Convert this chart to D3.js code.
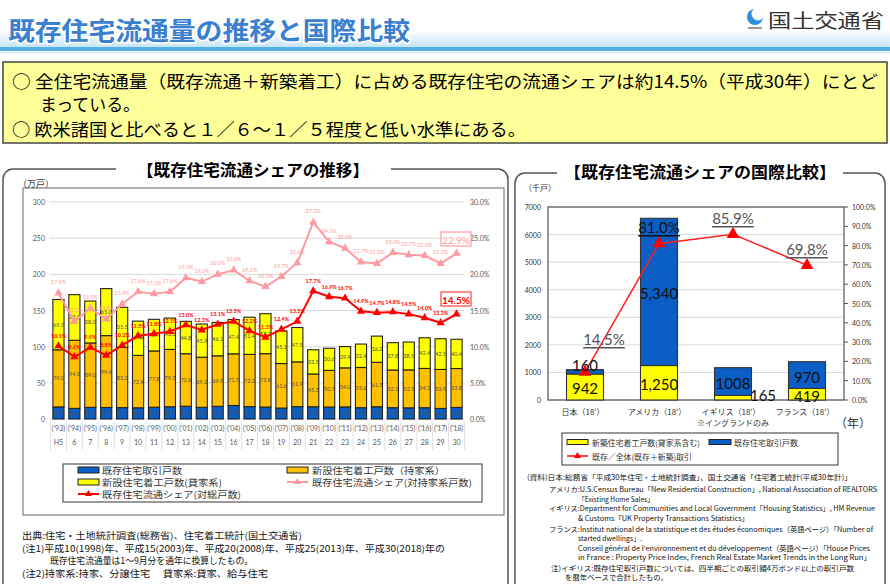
<!DOCTYPE html>
<html><head><meta charset="utf-8">
<script src="https://cdn.jsdelivr.net/npm/d3@7"></script>
<style>body{margin:0;background:#fff}svg{display:block}</style>
</head><body><svg id="c" width="890" height="584"></svg>
<script>
// ---------- DATA: left chart ----------
const years = ["('93)","('94)","('95)","('96)","('97)","('98)","('99)","('00)","('01)","('02)","('03)","('04)","('05)","('06)","('07)","('08)","('09)","('10)","('11)","('12)","('13)","('14)","('15)","('16)","('17)","('18)"];
const heisei = ["H5","6","7","8","9","10","11","12","13","14","15","16","17","18","19","20","21","22","23","24","25","26","27","28","29","30"];
const existing = [16.7,14.7,16.1,15.9,15.7,15.5,16.3,16.9,17.6,16.2,17.5,18.6,17.1,16.5,15.1,17.1,16.9,16.5,16.7,15.6,16.9,15.6,15.4,15.6,14.6,16.0];
const ownerNew = [79.0,94.1,89.0,99.4,83.2,72.4,77.8,79.3,72.6,69.2,69.9,71.5,72.2,73.8,61.6,61.9,45.3,50.7,54.0,55.6,61.5,52.1,52.5,54.3,53.9,53.8];
const rentalNew = [69.5,63.1,58.0,65.0,55.5,47.4,43.7,43.3,44.8,45.9,46.1,47.4,51.4,55.3,45.1,47.5,33.5,30.6,29.4,32.4,36.2,37.8,38.5,42.4,42.5,40.4];
const shareTotal = [10.1,8.6,9.9,8.8,10.2,11.5,11.8,12.1,13.0,12.3,13.1,13.5,12.2,11.3,12.4,13.5,17.7,16.9,16.7,14.9,14.7,14.8,14.5,14.0,13.3,14.5];
const shareOwner = [17.4,13.5,15.3,13.8,15.9,17.6,17.3,17.6,19.5,19.0,20.0,20.6,19.1,18.3,19.7,21.6,27.2,24.5,23.6,21.7,21.5,23.0,22.7,22.6,21.5,22.9];
const leftTicks = [0,50,100,150,200,250,300];
const rightTicks = [0,5,10,15,20,25,30];

// ---------- DATA: right chart ----------
const countries = ["日本（18'）","アメリカ（18'）","イギリス（18'）","フランス（18'）"];
const intlNew = [942,1250,165,419];
const intlExisting = [160,5340,1008,970];
const intlShare = [14.5,81.0,85.9,69.8];
const intlLeftTicks = [0,1000,2000,3000,4000,5000,6000,7000];
const intlRightTicks = [0,10,20,30,40,50,60,70,80,90,100];

// ---------- helpers ----------
const svg = d3.select("#c");
const F = '"Noto Sans CJK JP","Noto Sans",sans-serif';
const N = 'Lato,"Liberation Sans",sans-serif';
function T(g,x,y,s,o={}){
  const t=g.append("text").attr("x",x).attr("y",y).attr("dominant-baseline","central").text(s)
   .style("font-family",o.ff||F).style("font-size",(o.fs||10)+"px").attr("fill",o.fill||"#000");
  if(o.anchor) t.attr("text-anchor",o.anchor);
  if(o.bold) t.style("font-weight","bold");
  if(o.len) t.attr("textLength",o.len).attr("lengthAdjust","spacingAndGlyphs");
  if(o.ul) t.style("text-decoration","underline");
  return t;
}

// ---------- header ----------
const defs=svg.append("defs");
const lg=defs.append("linearGradient").attr("id","band").attr("x1",0).attr("x2",0).attr("y1",0).attr("y2",1);
lg.append("stop").attr("offset","0").attr("stop-color","#ffffff");
lg.append("stop").attr("offset","1").attr("stop-color","#c6e5f6");
svg.append("rect").attr("x",0).attr("y",30).attr("width",890).attr("height",17).attr("fill","url(#band)");
svg.append("rect").attr("x",0).attr("y",47).attr("width",890).attr("height",4).attr("fill","#4fb2e3");
svg.append("rect").attr("x",0).attr("y",52).attr("width",890).attr("height",1).attr("fill","#bfe2f4");
T(svg,8,29,"既存住宅流通量の推移と国際比較",{fs:25,bold:true,fill:"#3b7fd0",len:402})
  .attr("stroke","#fff").attr("stroke-width",3).attr("paint-order","stroke");
// logo
svg.append("circle").attr("cx",755).attr("cy",17).attr("r",8).attr("fill","#2c8fe0");
svg.append("circle").attr("cx",758).attr("cy",14).attr("r",6.5).attr("fill","#fff");
svg.append("rect").attr("x",748).attr("y",27).attr("width",14).attr("height",2).attr("fill","#999");
T(svg,768,19,"国土交通省",{fs:19,fill:"#333",len:116});

// ---------- summary box ----------
svg.append("rect").attr("x",3).attr("y",62).attr("width",884).attr("height",81).attr("fill","#ffff99").attr("stroke","#444").attr("stroke-width",1.5);
T(svg,12,80,"○ 全住宅流通量（既存流通＋新築着工）に占める既存住宅の流通シェアは約14.5%（平成30年）にとど",{fs:17.5,len:866});
T(svg,40,103,"まっている。",{fs:17.5,len:100});
T(svg,12,128,"○ 欧米諸国と比べると１／６～１／５程度と低い水準にある。",{fs:17.5,len:514});

// ---------- panels ----------
svg.append("path").attr("d","M116,169 H13 A10,10 0 0 0 3,179 V600 M391,169 H498 A10,10 0 0 1 508,179 V600")
  .attr("fill","none").attr("stroke","#555").attr("stroke-width",1.5);
svg.append("path").attr("d","M557,173 H525 A10,10 0 0 0 515,183 V600 M843,173 H875 A10,10 0 0 1 885,183 V600")
  .attr("fill","none").attr("stroke","#555").attr("stroke-width",1.5);
T(svg,253,169,"【既存住宅流通シェアの推移】",{fs:16,bold:true,anchor:"middle",len:232});
T(svg,700,171,"【既存住宅流通シェアの国際比較】",{fs:16,bold:true,anchor:"middle",len:272});

// ---------- LEFT CHART ----------
const L=svg.append("g");
L.append("rect").attr("x",23).attr("y",188).attr("width",481).attr("height",327).attr("fill","none").attr("stroke","#666").attr("stroke-width",1);
T(L,18,183,"（万戸）",{fs:9,fill:"#333"});
const x=d3.scaleBand().domain(years).range([50.5,464.5]).padding(0);
const y=d3.scaleLinear().domain([0,300]).range([419,202]);
const yp=d3.scaleLinear().domain([0,30]).range([419,202]);
L.append("g").selectAll("line").data(leftTicks).join("line")
  .attr("x1",50).attr("x2",464).attr("y1",d=>y(d)).attr("y2",d=>y(d)).attr("stroke","#d9d9d9").attr("stroke-width",1);
leftTicks.forEach(d=>T(L,45,y(d),String(d),{fs:7,fill:"#595959",anchor:"end",ff:N}));
rightTicks.forEach(d=>T(L,470,yp(d),d.toFixed(1)+"%",{fs:7,fill:"#595959",ff:N}));
// category table
years.forEach((d,i)=>{
  const cx=x(d)+x.bandwidth()/2;
  T(L,cx,428,d,{fs:7,fill:"#595959",anchor:"middle",ff:N});
  T(L,cx,442,heisei[i],{fs:7,fill:"#595959",anchor:"middle",ff:N});
});
d3.range(years.length+1).forEach(i=>{
  const xx=50.5+i*x.step();
  L.append("line").attr("x1",xx).attr("x2",xx).attr("y1",422).attr("y2",450).attr("stroke","#e0e0e0");
});
// bars
const rows=years.map((d,i)=>({year:d,existing:existing[i],ownerNew:ownerNew[i],rentalNew:rentalNew[i]}));
const keys=["existing","ownerNew","rentalNew"];
const colors={existing:"#0b5ec4",ownerNew:"#ffc000",rentalNew:"#ffff00"};
const stack=d3.stack().keys(keys)(rows);
const bw=x.bandwidth()*0.7;
stack.forEach(s=>{
  L.append("g").selectAll("rect").data(s).join("rect")
    .attr("x",d=>x(d.data.year)+(x.bandwidth()-bw)/2).attr("width",bw)
    .attr("y",d=>y(d[1])).attr("height",d=>y(d[0])-y(d[1]))
    .attr("fill",colors[s.key]).attr("stroke","#222").attr("stroke-width",1.1);
  s.forEach(d=>T(L,x(d.data.year)+x.bandwidth()/2,(y(d[0])+y(d[1]))/2,d.data[s.key].toFixed(1),{fs:5.5,fill:"#505050",anchor:"middle",ff:N}));
});
// lines
const cxf=(d,i)=>x(years[i])+x.bandwidth()/2;
const lineP=d3.line().x((d,i)=>cxf(d,i)).y(d=>yp(d));
L.append("path").attr("d",lineP(shareOwner)).attr("fill","none").attr("stroke","#ff9aa2").attr("stroke-width",2);
L.append("g").selectAll("path").data(shareOwner).join("path")
  .attr("d",d3.symbol(d3.symbolTriangle,30)).attr("transform",(d,i)=>`translate(${cxf(d,i)},${yp(d)})`).attr("fill","#ff9aa2");
L.append("path").attr("d",lineP(shareTotal)).attr("fill","none").attr("stroke","#ff0000").attr("stroke-width",2);
L.append("g").selectAll("path").data(shareTotal).join("path")
  .attr("d",d3.symbol(d3.symbolTriangle,30)).attr("transform",(d,i)=>`translate(${cxf(d,i)},${yp(d)})`).attr("fill","#ff0000");
shareOwner.forEach((d,i)=>{ if(i<years.length-1) T(L,cxf(d,i),yp(d)-11,d.toFixed(1)+"%",{fs:5.5,fill:"#ff9aa2",anchor:"middle",ff:N}); });
shareTotal.forEach((d,i)=>{ if(i<years.length-1) T(L,cxf(d,i),yp(d)-10,d.toFixed(1)+"%",{fs:5.5,fill:"#ff0000",anchor:"middle",bold:true,ff:N}); });
// highlight boxes
const last=years.length-1;
L.append("rect").attr("x",441).attr("y",232).attr("width",30).attr("height",14).attr("fill","#fff").attr("stroke","#ff9aa2").attr("stroke-width",1.2);
T(L,456,239.5,shareOwner[last].toFixed(1)+"%",{fs:10,fill:"#ff9aa2",anchor:"middle",ff:N});
L.append("rect").attr("x",441).attr("y",292).attr("width",30).attr("height",14).attr("fill","#fff").attr("stroke","#ff4040").attr("stroke-width",1.2);
T(L,456,299.5,shareTotal[last].toFixed(1)+"%",{fs:10,fill:"#ff0000",anchor:"middle",bold:true,ff:N});
// legend
L.append("rect").attr("x",63).attr("y",464).attr("width",419).attr("height",38).attr("fill","#fff").attr("stroke","#555").attr("stroke-width",1.2);
const sw=(g,x0,yy,c)=>g.append("rect").attr("x",x0).attr("y",yy-3).attr("width",21).attr("height",6).attr("fill",c).attr("stroke","#222").attr("stroke-width",1);
const lf={fs:9,fill:"#333"};
sw(L,78,470,colors.existing); T(L,102,470,"既存住宅取引戸数",{...lf,len:80});
sw(L,287,470,colors.ownerNew); T(L,312,470,"新設住宅着工戸数（持家系）",{...lf,len:133});
sw(L,78,482,colors.rentalNew); T(L,102,482,"新設住宅着工戸数(貸家系)",{...lf,len:120});
L.append("line").attr("x1",287).attr("x2",308).attr("y1",482).attr("y2",482).attr("stroke","#ff9aa2").attr("stroke-width",2);
L.append("path").attr("d",d3.symbol(d3.symbolTriangle,22)).attr("transform","translate(297.5,482)").attr("fill","#ff9aa2");
T(L,312,482,"既存住宅流通シェア(対持家系戸数)",{...lf,len:160});
L.append("line").attr("x1",78).attr("x2",99).attr("y1",494).attr("y2",494).attr("stroke","#ff0000").attr("stroke-width",2);
L.append("path").attr("d",d3.symbol(d3.symbolTriangle,22)).attr("transform","translate(88.5,494)").attr("fill","#ff0000");
T(L,102,494,"既存住宅流通シェア(対総戸数)",{...lf,len:139});
// footnotes
const fn={fs:9,fill:"#111"};
T(L,22,535,"出典:住宅・土地統計調査(総務省)、住宅着工統計(国土交通省)",{...fn,len:280});
T(L,22,548,"(注1)平成10(1998)年、平成15(2003)年、平成20(2008)年、平成25(2013)年、平成30(2018)年の",{...fn,len:423});
T(L,50,560,"既存住宅流通量は1～9月分を通年に換算したもの。",{...fn,len:203});
T(L,22,573,"(注2)持家系:持家、分譲住宅　 貸家系:貸家、給与住宅",{...fn,len:246});

// ---------- RIGHT CHART ----------
const R=svg.append("g");
T(R,524,187,"（千戸）",{fs:8,fill:"#333"});
const xr=d3.scaleBand().domain(countries).range([548,844]).padding(0);
const yr=d3.scaleLinear().domain([0,7000]).range([400,207]);
const yrp=d3.scaleLinear().domain([0,100]).range([400,207]);
R.append("g").selectAll("line").data(intlLeftTicks).join("line")
  .attr("x1",548).attr("x2",844).attr("y1",d=>yr(d)).attr("y2",d=>yr(d)).attr("stroke","#d9d9d9");
R.append("rect").attr("x",548).attr("y",207).attr("width",296).attr("height",193).attr("fill","none").attr("stroke","#555").attr("stroke-width",1.2);
intlLeftTicks.forEach(d=>T(R,541,yr(d),String(d),{fs:7,fill:"#333",anchor:"end",ff:N}));
intlRightTicks.forEach(d=>{
  R.append("line").attr("x1",844).attr("x2",848).attr("y1",yrp(d)).attr("y2",yrp(d)).attr("stroke","#555");
  T(R,852,yrp(d),d.toFixed(1)+"%",{fs:7,fill:"#333",ff:N});
});
const rrows=countries.map((c,i)=>({c,newc:intlNew[i],ex:intlExisting[i]}));
const rstack=d3.stack().keys(["newc","ex"])(rrows);
const rcol={newc:"#ffff00",ex:"#0b5ec4"};
const rbw=xr.bandwidth()*0.5;
rstack.forEach(s=>{
  R.append("g").selectAll("rect").data(s).join("rect")
   .attr("x",d=>xr(d.data.c)+(xr.bandwidth()-rbw)/2).attr("width",rbw)
   .attr("y",d=>yr(d[1])).attr("height",d=>yr(d[0])-yr(d[1]))
   .attr("fill",rcol[s.key]).attr("stroke","#333").attr("stroke-width",1.1);
});
const rc=i=>xr(countries[i])+xr.bandwidth()/2;
const rline=d3.line().x((d,i)=>rc(i)).y(d=>yrp(d));
R.append("path").attr("d",rline(intlShare)).attr("fill","none").attr("stroke","#ff2020").attr("stroke-width",1.5);
R.append("g").selectAll("path").data(intlShare).join("path")
  .attr("d",d3.symbol(d3.symbolTriangle,70)).attr("transform",(d,i)=>`translate(${rc(i)},${yrp(d)})`).attr("fill","#ff0000");
// value labels
const fmt=d3.format(",");
const vl={fs:15,fill:"#111",anchor:"middle",ff:N};
T(R,rc(0),yr(intlNew[0]/2)+1,String(intlNew[0]),vl);
T(R,rc(0),365,String(intlExisting[0]),vl);
T(R,rc(1),yr(intlNew[1]/2)+1,fmt(intlNew[1]),vl);
T(R,rc(1),293,fmt(intlExisting[1]),vl);
T(R,rc(2),383,String(intlExisting[2]),vl);
T(R,763,395,String(intlNew[2]),vl);
T(R,rc(3),377,String(intlExisting[3]),vl);
T(R,rc(3),396,String(intlNew[3]),vl);
const pl={fs:15,fill:"#555",anchor:"middle",ff:N,ul:true};
T(R,604,339,intlShare[0].toFixed(1)+"%",pl);
T(R,rc(1),227,intlShare[1].toFixed(1)+"%",{fs:15,fill:"#111",anchor:"middle",ff:N,ul:true});
T(R,rc(2),218,intlShare[2].toFixed(1)+"%",pl);
T(R,rc(3),249,intlShare[3].toFixed(1)+"%",pl);
// x labels
countries.forEach((c,i)=>T(R,rc(i)-2,411,c,{fs:8,fill:"#333",anchor:"middle"}));
T(R,rc(2),422,"※イングランドのみ",{fs:8,fill:"#333",anchor:"middle"});
T(R,835,422,"（年）",{fs:12,fill:"#333"});
// legend
R.append("rect").attr("x",562).attr("y",433).attr("width",276).attr("height",32).attr("fill","#fff").attr("stroke","#555").attr("stroke-width",1.2);
R.append("rect").attr("x",567).attr("y",439.5).attr("width",21).attr("height",5).attr("fill","#ffff00").attr("stroke","#222");
T(R,592,442,"新築住宅着工戸数(貸家系含む)",{fs:8,fill:"#333",len:108});
R.append("rect").attr("x",709).attr("y",439.5).attr("width",22).attr("height",5).attr("fill","#0b5ec4").attr("stroke","#222");
T(R,734,442,"既存住宅取引戸数",{fs:8,fill:"#333",len:64});
R.append("line").attr("x1",567).attr("x2",588).attr("y1",456).attr("y2",456).attr("stroke","#ff0000").attr("stroke-width",1.5);
R.append("path").attr("d",d3.symbol(d3.symbolTriangle,22)).attr("transform","translate(577.5,456)").attr("fill","#ff0000");
T(R,592,456,"既存／全体(既存＋新築)取引",{fs:8,fill:"#333",len:100});
// sources
const src=[
 [527,477,"(資料)日本:総務省「平成30年住宅・土地統計調査」、国土交通省「住宅着工統計(平成30年計)」",325],
 [549,489,"アメリカ:U.S.Census Bureau「New Residential Construction」, National Association of REALTORS",328],
 [578,499,"「Existing Home Sales」",76],
 [549,508,"イギリス:Department for Communities and Local Government「Housing Statistics」, HM Revenue",326],
 [578,518,"& Customs「UK Property Transactions Statistics」",171],
 [549,529,"フランス:Institut national de la statistique et des études économiques（英語ページ）「Number of",324],
 [578,538,"started dwellings」.",64],
 [578,548,"Conseil général de l'environnement et du développement（英語ページ）「House Prices",292],
 [578,557,"in France : Property Price Index, French Real Estate Market Trends in the Long Run」",293],
 [551,568,"注)イギリス:既存住宅取引戸数については、四半期ごとの取引額4万ポンド以上の取引戸数",303],
 [565,577,"を暦年ベースで合計したもの。",103]
];
src.forEach(s=>T(R,s[0],s[1],s[2],{fs:7,fill:"#111",len:s[3]}));
</script>
</body></html>
